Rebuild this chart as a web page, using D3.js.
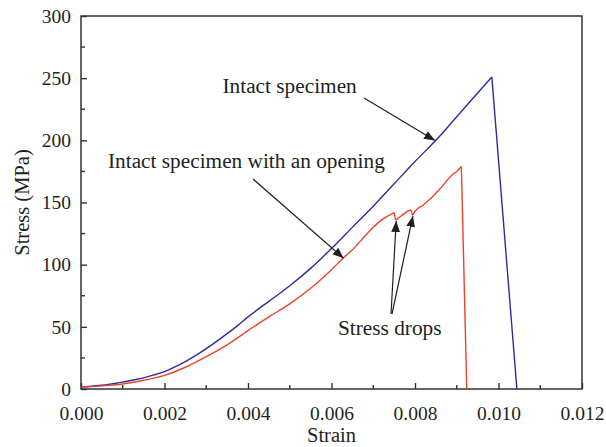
<!DOCTYPE html>
<html><head><meta charset="utf-8">
<script src="https://cdn.jsdelivr.net/npm/d3@7"></script>
<style>body{margin:0;background:#fff}svg{display:block}</style>
</head><body><svg id="c" width="606" height="447"></svg>
<script>
const intactStrain = [0,0.00025,0.0005,0.00075,0.001,0.00125,0.0015,0.00175,0.002,0.00225,0.0025,0.00275,0.003,0.00325,0.0035,0.00375,0.004,0.0045,0.005,0.0055,0.006,0.0065,0.007,0.0075,0.008,0.0085,0.009,0.0095,0.00984,0.01044];
const intactStress = [1.5,2.2,3,4.2,5.5,7.2,9,11.3,14,17.8,22,27,32.5,38.3,44.5,51,58,70.5,83,97,113,130,147,165,183,200,219,238,251,0];
const openingStrain = [0,0.0005,0.001,0.0015,0.002,0.0025,0.003,0.0035,0.004,0.0045,0.005,0.0055,0.006,0.0063,0.0065,0.0068,0.007,0.0072,0.0074,0.0075,0.00754,0.0076,0.0077,0.0078,0.0079,0.00794,0.008,0.0082,0.0084,0.0086,0.0088,0.0089,0.009,0.00911,0.00924];
const openingStress = [1.5,2.5,4,7,11,17.5,26,35.5,47,58,68.5,81,96,106,112,123,130,136,140,141.5,136,137.5,140,142.5,144,140,143,148,154,161,169,172.5,175,179,0];
const xTicks = [0,0.002,0.004,0.006,0.008,0.010,0.012];
const yTicks = [0,50,100,150,200,250,300];
const xTitle = "Strain", yTitle = "Stress (MPa)";
const labelIntact = "Intact specimen", labelOpening = "Intact specimen with an opening", labelDrops = "Stress drops";

const svg = d3.select("#c");
const L=81,R=582,T=16,B=389;
const x = d3.scaleLinear().domain([0,0.012]).range([L,R]);
const y = d3.scaleLinear().domain([0,300]).range([B,T]);
const axisCol="#333", txtCol="#231f20";
const FONT="Liberation Serif";

const xMinor = d3.range(0,0.0121,0.001).filter(v=>Math.round(v*1000)%2===1);
const yMinor = d3.range(25,300,50);
const gx = svg.append("g").attr("transform",`translate(0,${B})`)
  .call(d3.axisBottom(x).tickValues(xTicks).tickSize(-6).tickPadding(17).tickFormat(d3.format(".3f")));
gx.attr("font-family",FONT).attr("font-size",19.5);
gx.select(".domain").remove();
gx.selectAll(".tick line").attr("stroke",axisCol).attr("stroke-width",1.4);
gx.selectAll("text").attr("font-family",FONT).attr("font-size",19.5).attr("fill",txtCol);
svg.append("g").selectAll("line").data(xMinor).join("line")
  .attr("x1",d=>x(d)).attr("x2",d=>x(d)).attr("y1",B).attr("y2",B-4).attr("stroke",axisCol).attr("stroke-width",1.4);

const gy = svg.append("g").attr("transform",`translate(${L},0)`)
  .call(d3.axisLeft(y).tickValues(yTicks).tickSize(-6).tickPadding(10).tickFormat(d3.format("d")));
gy.attr("font-family",FONT).attr("font-size",19.5);
gy.select(".domain").remove();
gy.selectAll(".tick line").attr("stroke",axisCol).attr("stroke-width",1.4);
gy.selectAll("text").attr("font-family",FONT).attr("font-size",19.5).attr("fill",txtCol);
svg.append("g").selectAll("line").data(yMinor).join("line")
  .attr("y1",d=>y(d)).attr("y2",d=>y(d)).attr("x1",L).attr("x2",L+4).attr("stroke",axisCol).attr("stroke-width",1.4);

svg.append("rect").attr("x",L).attr("y",T).attr("width",R-L).attr("height",B-T)
  .attr("fill","none").attr("stroke",axisCol).attr("stroke-width",1.5);

function drawSeries(xs,ys,col){
  const pts = xs.map((s,i)=>[s,ys[i]]);
  const n = pts.length;
  svg.append("path").datum(pts.slice(0,n-1))
    .attr("d",d3.line().x(d=>x(d[0])).y(d=>y(d[1])).curve(d3.curveMonotoneX))
    .attr("fill","none").attr("stroke",col).attr("stroke-width",1.4);
  svg.append("path").datum(pts.slice(n-2))
    .attr("d",d3.line().x(d=>x(d[0])).y(d=>y(d[1])))
    .attr("fill","none").attr("stroke",col).attr("stroke-width",1.4);
}
drawSeries(intactStrain,intactStress,"#2f2c9c");
drawSeries(openingStrain,openingStress,"#f0412a");

function label(xp,yp,t,size,anchor,transform){
  const e = svg.append("text").attr("font-family",FONT).attr("font-size",size).attr("fill",txtCol).text(t);
  if(transform) e.attr("transform",transform); else e.attr("x",xp).attr("y",yp);
  if(anchor) e.attr("text-anchor",anchor);
  return e;
}
label((L+R)/2,442,xTitle,20.5,"middle");
label(0,0,yTitle,20.5,"middle",`translate(29,${(T+B)/2}) rotate(-90)`);

svg.append("defs").append("marker").attr("id","ah").attr("viewBox","0 0 10 10").attr("refX",10).attr("refY",5)
  .attr("markerWidth",11).attr("markerHeight",11).attr("markerUnits","userSpaceOnUse").attr("orient","auto")
  .append("path").attr("d","M0,1 L10,5 L0,9 Z").attr("fill",txtCol);
function arrow(x1,y1,x2,y2){svg.append("line").attr("x1",x1).attr("y1",y1).attr("x2",x2).attr("y2",y2)
  .attr("stroke",txtCol).attr("stroke-width",1.2).attr("marker-end","url(#ah)");}
label(222.5,93,labelIntact,21.3);
arrow(364,98,x(0.00848),y(199)-1);
label(108,168,labelOpening,21.3);
arrow(253,179,x(0.00629),y(106)+1);
label(338,335,labelDrops,21.3);
arrow(391,314,x(0.00755),y(136)+1);
arrow(392,314,x(0.00795),y(140)+1);
</script></body></html>
